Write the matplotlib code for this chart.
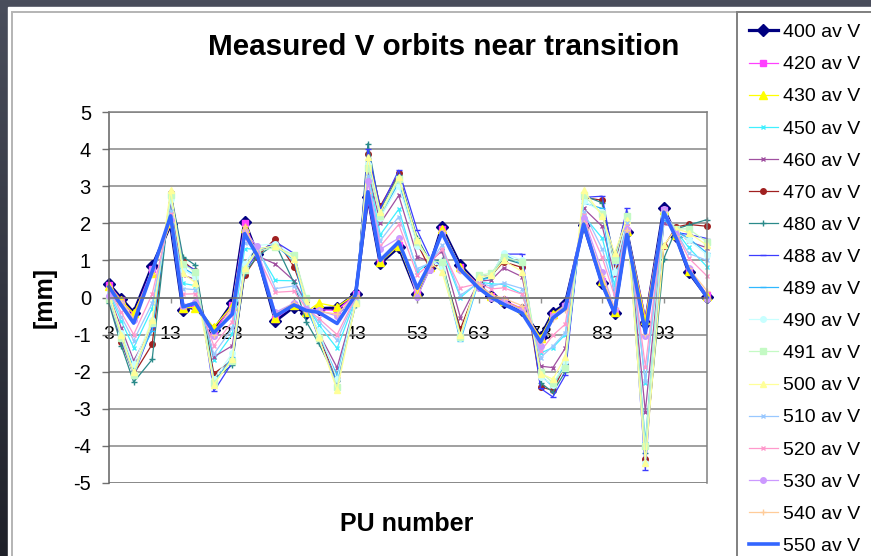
import matplotlib
matplotlib.use("Agg")
import matplotlib.pyplot as plt
import numpy as np
from matplotlib.colors import LinearSegmentedColormap
from matplotlib.patches import Rectangle

plt.rcParams['font.family'] = ['Liberation Sans', 'DejaVu Sans']
plt.rcParams['axes.unicode_minus'] = False

# PU positions where orbits were measured
pu = [3, 5, 7, 10, 13, 15, 17, 20, 23, 25, 27, 30, 33, 35, 37, 40, 43, 45, 47, 50,
      53, 55, 57, 60, 63, 65, 67, 70, 73, 75, 77, 80, 83, 85, 87, 90, 93, 95, 97, 100]

v400 = [0.36, -0.03, -0.41, 0.84, 1.97, -0.34, -0.23, -0.88, -0.15, 2.04, 1.18, -0.63, -0.25, -0.41, -0.30, -0.28, 0.10, 2.71, 0.92, 1.36,
        0.10, 0.83, 1.89, 0.87, 0.33, 0.03, -0.12, -0.34, -1.06, -0.41, -0.18, 1.95, 0.38, -0.41, 1.77, -0.68, 2.40, 1.65, 0.69, 0.02]
v420 = [0.35, -0.07, -0.47, 0.77, 2.00, -0.30, -0.20, -0.93, -0.20, 2.00, 1.18, -0.57, -0.21, -0.40, -0.33, -0.35, 0.09, 2.62, 0.97, 1.42,
        0.15, 0.84, 1.85, 0.81, 0.34, 0.05, -0.08, -0.30, -1.10, -0.48, -0.24, 1.98, 0.45, -0.37, 1.79, -0.55, 2.36, 1.66, 0.73, 0.08]
v430 = [0.31, -0.08, -0.43, 0.65, 2.01, -0.28, -0.27, -0.80, -0.22, 1.87, 1.18, -0.54, -0.19, -0.39, -0.15, -0.25, 0.09, 2.74, 0.95, 1.40,
        0.12, 0.82, 1.84, 0.82, 0.30, 0.05, -0.10, -0.32, -1.08, -0.45, -0.20, 1.93, 0.45, -0.38, 1.80, -0.60, 2.35, 1.68, 0.72, 0.05]
v450 = [0.13, -0.64, -1.35, -0.30, 2.44, 0.38, 0.32, -1.69, -0.99, 1.32, 1.30, 0.46, 0.45, -0.20, -0.73, -1.37, -0.05, 3.41, 1.69, 2.38,
        0.70, 0.94, 1.29, 0.00, 0.42, 0.37, 0.35, 0.10, -1.50, -1.35, -1.00, 2.20, 1.60, 0.35, 2.06, -2.30, 2.20, 1.80, 1.35, 0.83]
v460 = [0.06, -0.82, -1.70, -0.79, 2.57, 0.60, 0.49, -1.60, -1.30, 0.85, 1.13, 0.90, 0.45, -0.14, -0.95, -1.89, -0.10, 3.45, 2.00, 2.75,
        1.10, 0.97, 1.25, -0.54, 0.44, 0.47, 0.80, 0.56, -1.85, -1.89, -1.37, 2.40, 1.92, 0.60, 2.00, -3.08, 2.00, 1.85, 1.51, 1.34]
v470 = [-0.07, -1.21, -2.07, -1.26, 2.82, 0.98, 0.71, -2.05, -1.69, 0.60, 1.10, 1.59, 0.83, -0.10, -1.06, -2.20, -0.10, 3.88, 2.46, 3.35,
        1.45, 0.80, 0.90, -0.85, 0.45, 0.60, 0.96, 0.81, -2.41, -2.50, -1.83, 2.70, 2.62, 0.90, 2.20, -4.34, 1.38, 1.90, 1.97, 1.92]
v480 = [-0.15, -1.30, -2.28, -1.67, 2.85, 1.10, 0.87, -2.20, -1.82, 0.65, 1.10, 1.45, 0.40, -0.65, -1.23, -2.25, -0.20, 4.15, 2.35, 3.30,
        1.60, 1.00, 1.00, -1.00, 0.50, 0.55, 1.05, 0.90, -2.30, -2.55, -2.00, 2.75, 2.55, 1.05, 2.25, -4.20, 1.05, 1.85, 1.95, 2.10]
v488 = [-0.05, -1.15, -2.10, -0.80, 2.80, 0.90, 0.75, -2.53, -1.75, 0.70, 1.20, 1.50, 1.19, -0.13, -1.10, -2.35, -0.15, 4.00, 2.40, 3.43,
        1.81, 1.10, 0.85, -1.05, 0.55, 0.60, 1.17, 1.17, -2.45, -2.68, -2.10, 2.70, 2.73, 0.90, 2.40, -4.65, 2.35, 1.75, 1.70, 1.59]
v489 = [0.00, -1.00, -1.90, -0.90, 2.70, 0.80, 0.60, -2.30, -1.60, 0.80, 1.30, 1.40, 1.00, -0.30, -1.00, -2.10, -0.10, 3.70, 2.20, 3.10,
        1.50, 1.00, 0.85, -1.17, 0.45, 0.55, 1.17, 0.90, -2.10, -2.40, -1.80, 2.55, 2.40, 0.00, 2.15, -3.90, 2.10, 1.80, 1.60, 1.20]
v490 = [0.05, -0.95, -1.80, -0.60, 2.65, 0.75, 0.55, -2.20, -1.50, 0.90, 1.40, 1.45, 1.10, -0.20, -0.90, -2.20, -0.05, 3.60, 2.15, 3.00,
        1.40, 1.05, 0.80, -1.10, 0.50, 0.60, 1.20, 1.00, -2.15, -2.35, -1.70, 2.60, 2.30, 0.70, 2.10, -4.45, 2.20, 1.75, 1.55, 1.15]
v491 = [-0.05, -1.10, -2.10, -0.70, 2.75, 0.90, 0.70, -2.30, -1.70, 0.75, 1.25, 1.35, 1.15, 0.00, -1.10, -2.40, -0.15, 3.50, 2.20, 3.20,
        1.50, 1.00, 0.95, -1.06, 0.60, 0.65, 1.10, 0.95, -2.00, -2.30, -1.90, 2.75, 2.25, 1.00, 2.20, -4.00, 2.25, 1.85, 1.85, 1.50]
v500 = [0.10, -1.00, -2.00, -0.60, 2.90, 0.65, 0.40, -2.35, -1.65, 0.80, 1.30, 1.40, 1.05, -0.10, -1.06, -2.50, -0.16, 3.80, 2.30, 3.25,
        1.55, 0.95, 0.70, -1.00, 0.55, 0.60, 1.00, 0.70, -2.05, -2.20, -1.60, 2.89, 2.20, 1.20, 2.10, -4.45, 1.41, 1.85, 1.75, 1.41]
v510 = [0.18, -0.52, -1.16, -0.16, 2.34, 0.24, 0.21, -1.53, -0.82, 1.46, 1.40, 0.24, 0.31, -0.25, -0.64, -1.15, -0.02, 3.27, 1.53, 2.18,
        0.78, 0.92, 1.41, 0.06, 0.40, 0.30, 0.39, 0.24, -1.62, -1.31, -0.95, 2.31, 1.31, 0.19, 2.00, -2.25, 2.25, 1.77, 1.19, 1.00]
v520 = [0.22, -0.40, -1.00, 0.09, 2.25, 0.09, 0.10, -1.30, -0.65, 1.61, 1.16, 0.14, 0.17, -0.29, -0.56, -1.00, 0.01, 3.13, 1.38, 1.97,
        0.61, 0.90, 1.30, 0.26, 0.38, 0.23, 0.26, 0.09, -1.45, -1.02, -0.72, 2.22, 1.08, 0.04, 1.94, -1.86, 2.20, 1.74, 1.07, 0.58]
v530 = [0.03, -0.15, -0.60, 0.78, 2.10, -0.22, -0.12, -1.05, -0.35, 1.80, 1.38, -0.40, -0.15, -0.30, -0.35, -0.50, 0.10, 3.15, 1.30, 1.60,
        0.02, 0.75, 1.75, 0.75, 0.25, 0.00, -0.10, -0.35, -1.30, -0.50, -0.20, 2.15, 0.70, -0.30, 1.85, -1.05, 2.38, 1.70, 0.80, -0.05]
v540 = [0.32, -0.13, -0.56, 0.64, 2.04, -0.22, -0.14, -1.01, -0.28, 1.92, 1.17, -0.46, -0.14, -0.38, -0.37, -0.45, 0.08, 2.82, 1.04, 1.52,
        0.24, 0.85, 1.79, 0.71, 0.34, 0.08, -0.02, -0.22, -1.17, -0.59, -0.33, 2.02, 0.57, -0.29, 1.82, -0.99, 2.30, 1.67, 0.79, 0.18]
v550 = [0.29, -0.21, -0.69, 0.70, 2.20, -0.25, -0.15, -0.95, -0.45, 1.72, 1.15, -0.50, -0.20, -0.35, -0.40, -0.70, 0.07, 2.85, 1.00, 1.50,
        0.25, 0.90, 1.75, 0.75, 0.25, 0.00, -0.18, -0.42, -1.20, -0.55, -0.30, 1.98, 0.35, -0.42, 1.70, -0.96, 2.30, 1.60, 0.75, 0.00]

labels = ['400 av V', '420 av V', '430 av V', '450 av V', '460 av V', '470 av V', '480 av V', '488 av V', '489 av V',
          '490 av V', '491 av V', '500 av V', '510 av V', '520 av V', '530 av V', '540 av V', '550 av V']
series = [v400, v420, v430, v450, v460, v470, v480, v488, v489, v490, v491, v500, v510, v520, v530, v540, v550]

# (line colour, marker, marker size, line width)
styles = [
    ('#000080', 'D', 6.5, 2.3),
    ('#ff40ff', 's', 4.0, 0.9),
    ('#ffff00', '^', 5.5, 0.9),
    ('#40f0ff', 'x', 3.5, 0.9),
    ('#a050a0', 'x', 3.5, 0.9),
    ('#a02020', 'o', 4.0, 0.9),
    ('#2a8a8a', '+', 4.0, 0.9),
    ('#3c3cff', '_', 5.0, 0.9),
    ('#30b8ff', '_', 5.0, 0.9),
    ('#c8ffff', 'o', 4.0, 0.9),
    ('#c4fac4', 's', 4.0, 0.9),
    ('#ffff99', '^', 5.0, 0.9),
    ('#99c8ff', 'x', 3.5, 0.9),
    ('#ff99cc', 'x', 3.5, 0.9),
    ('#cc99ff', 'o', 4.0, 0.9),
    ('#ffcc99', '+', 4.0, 0.9),
    ('#3366ff', None, 0, 2.6),
]

fig = plt.figure(figsize=(8.71, 5.56), dpi=100)

# dark slide background with the white chart area on it
bg = fig.add_axes([0, 0, 1, 1])
bg.axis('off')
bg.set_xlim(0, 1)
bg.set_ylim(0, 1)
cmap = LinearSegmentedColormap.from_list('slide', ['#4a4e5c', '#1f2129'])
bg.imshow(np.linspace(0, 1, 256).reshape(-1, 1), cmap=cmap, aspect='auto', extent=[0, 1, 0, 1])
bg.add_patch(Rectangle((8 / 871, -0.01), 1.0, 1 - 7 / 556 + 0.01, color='white'))
bg.add_patch(Rectangle((12 / 871, -0.1), 1.1, 1 - 12 / 556 + 0.1, fill=False, edgecolor='#b4b4b4', lw=1.4))

ax = fig.add_axes([109 / 871, 73 / 556, 598 / 871, 371 / 556])

for vals, lab, (col, mk, ms, lw) in zip(series, labels, styles):
    ax.plot(pu, vals, color=col, marker=mk, markersize=ms, lw=lw, label=lab,
            markerfacecolor=col, markeredgecolor=col, clip_on=False)

ax.set_xlim(3, 100)
ax.set_ylim(-5, 5)
ax.set_yticks(range(-5, 6))
ax.set_xticks(range(3, 100, 10))
ax.set_axisbelow(True)
ax.yaxis.grid(True, color='#868686', lw=1.1)

for s in ['top', 'right', 'left']:
    ax.spines[s].set_color('#808080')
    ax.spines[s].set_linewidth(1.1)
ax.spines['left'].set_color('#606060')
ax.spines['bottom'].set_position(('data', 0))
ax.spines['bottom'].set_color('#707070')
ax.spines['bottom'].set_linewidth(1.1)
ax.axhline(-5, color='#808080', lw=1.1, zorder=0.5)

ax.tick_params(axis='y', length=5, width=1, color='#707070', pad=8, labelsize=14.5)
ax.tick_params(axis='x', direction='out', length=3.5, width=1, color='#909090', pad=17, labelsize=14)

fig.text(45 / 871, 1 - 297 / 556, '[mm]', rotation=90, ha='center', va='center', fontsize=18, fontweight='bold')
fig.text(407 / 871, 1 - 524 / 556, 'PU number', ha='center', va='center', fontsize=18, fontweight='bold')
fig.text(444 / 871, 1 - 47 / 556, 'Measured V orbits near transition', ha='center', va='center',
         fontsize=21.3, fontweight='bold')

leg = ax.legend(loc='upper left', bbox_to_anchor=(737 / 871, 1 - 12 / 556), bbox_transform=fig.transFigure,
                fancybox=False, edgecolor='#808080', fontsize=14.0, handlelength=1.5, handletextpad=0.25,
                labelspacing=0.745, borderaxespad=0, borderpad=0.6, framealpha=1)
leg.get_frame().set_linewidth(1.4)

fig.savefig('out.png', dpi=100)
